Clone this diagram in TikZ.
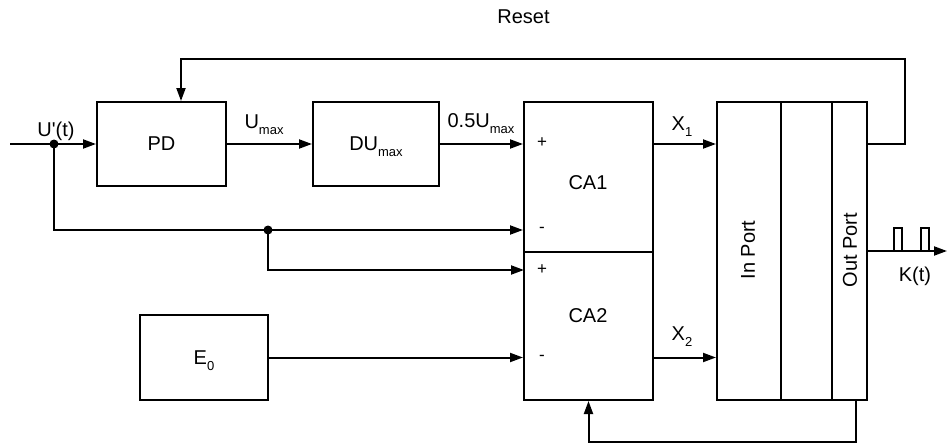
\documentclass[tikz,border=0pt]{standalone}
\usepackage{fontspec}
\setmainfont{Liberation Sans}
\usetikzlibrary{arrows.meta}
\newcommand\mysub[1]{\raisebox{-6pt}[0pt][0pt]{\fontsize{13}{13}\selectfont #1}}
\begin{document}
\begin{tikzpicture}[x=1pt,y=-1pt, line width=2pt,
  blk/.style={draw, rectangle, inner sep=0pt, line width=2pt, font=\fontsize{20}{24}\selectfont},
  arr/.style={line width=2pt, -{Triangle[length=13pt,width=9pt]}},
  lbl/.style={font=\fontsize{20}{24}\selectfont, inner sep=0pt, anchor=base},
  sgn/.style={font=\fontsize{17}{20}\selectfont, inner sep=0pt},
  dot/.style={circle, fill, inner sep=0pt, minimum size=9pt}]
\useasboundingbox (0,0) rectangle (951,445);
% blocks
\node[blk, minimum width=129pt, minimum height=84pt] (pd) at (161.5,144) {PD};
\node[blk, minimum width=126pt, minimum height=84pt] (du) at (376,144) {DU\mysub{max}};
\node[blk, minimum width=129pt, minimum height=150pt] (ca1) at (588.5,177) {};
\node[blk, minimum width=129pt, minimum height=148pt] (ca2) at (588.5,326) {};
\node[blk, minimum width=64pt, minimum height=298pt] (inp) at (749,251) {};
\node[blk, minimum width=51pt, minimum height=298pt] (mid) at (806.5,251) {};
\node[blk, minimum width=35pt, minimum height=298pt] (outp) at (849.5,251) {};
\node[blk, minimum width=128pt, minimum height=85pt] (e0) at (204,357.5) {E\mysub{0}};
% texts in blocks
\node[lbl, anchor=center] (tca1) at (588,183) {CA1};
\node[lbl, anchor=center] (tca2) at (588,316) {CA2};
\node[lbl, anchor=center, rotate=90] (tin) at (748,250) {In Port};
\node[lbl, anchor=center, rotate=90] (tout) at (850,250) {Out Port};
\node[sgn] (s1) at (542,143) {+};
\node[sgn] (s2) at (542,230) {-};
\node[sgn] (s3) at (542,270) {+};
\node[sgn] (s4) at (542,358) {-};
% coordinates
\coordinate (in) at (10,144);
\coordinate (j1) at (54,144);
\coordinate (j2) at (268,230);
\coordinate (c2p) at (524,270);
\coordinate (r1) at (905,59);
\coordinate (r2) at (181,59);
\coordinate (b1) at (856,442);
\coordinate (kend) at (947,251);
% connectors
\draw[arr] (in) -- (pd.west);
\draw[arr] (pd.east) -- (du.west);
\draw[arr] (du.east) -- (du.east -| ca1.west);
\draw[arr] (j1) |- (j2) -- (j2 -| ca1.west);
\draw[arr] (j2) |- (c2p);
\draw[arr] (e0.east) -- (e0.east -| ca2.west);
\draw[arr] (ca1.east |- du.east) -- (inp.west |- du.east);
\draw[arr] (ca2.east |- e0.east) -- (inp.west |- e0.east);
\draw[arr] (outp.east |- du.east) -| (r1) -| (r2 |- pd.north);
\draw[arr] (outp.south -| b1) -- (b1) -| (ca2.south);
\draw[arr] (outp.east |- kend) -- (kend);
\draw (894,251) |- (902,228) -- (902,251);
\draw (921,251) |- (929,228) -- (929,251);
\node[dot] (d1) at (j1) {};
\node[dot] (d2) at (j2) {};
% labels
\node[lbl] (lu) at (56,136) {U\textquotesingle(t)};
\node[lbl] (lum) at (264,128) {U\mysub{max}};
\node[lbl] (lhu) at (481,127) {0.5U\mysub{max}};
\node[lbl] (lx1) at (682,130) {X\mysub{1}};
\node[lbl] (lx2) at (682,340) {X\mysub{2}};
\node[lbl] (lres) at (523.5,23) {Reset};
\node[lbl] (lk) at (915,281) {K(t)};
\end{tikzpicture}
\end{document}
